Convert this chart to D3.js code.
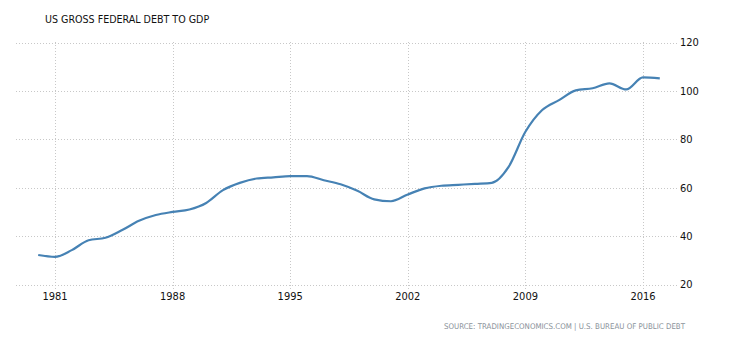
<!DOCTYPE html>
<html><head><meta charset="utf-8">
<script src="https://cdn.jsdelivr.net/npm/d3@7"></script>
<style>body{margin:0;background:#fff}svg{display:block}</style>
</head><body>
<script>
const years = [1980,1981,1982,1983,1984,1985,1986,1987,1988,1989,1990,1991,1992,1993,1994,1995,1996,1997,1998,1999,2000,2001,2002,2003,2004,2005,2006,2007,2008,2009,2010,2011,2012,2013,2014,2015,2016,2017];
const debt = [32.2,31.4,34.2,38.3,39.3,42.5,46.3,48.7,50.0,51.0,53.7,59.0,62.0,63.8,64.3,64.8,64.8,63.1,61.4,58.7,55.2,54.4,57.2,59.7,60.8,61.2,61.6,62.0,68.6,83.1,92.1,96.2,100.2,101.1,103.1,100.6,105.6,105.2];
const xTicks = [1981,1988,1995,2002,2009,2016];
const yTicks = [20,40,60,80,100,120];
const title = "US GROSS FEDERAL DEBT TO GDP";
const source = "SOURCE: TRADINGECONOMICS.COM | U.S. BUREAU OF PUBLIC DEBT";

const W = 730, H = 340;
const svg = d3.select("body").append("svg").attr("width", W).attr("height", H);
const font = "'DejaVu Sans Condensed', 'DejaVu Sans', sans-serif";

const x = d3.scaleLinear().domain([1981, 2016]).range([55, 643]);
const y = d3.scaleLinear().domain([20, 120]).range([284.5, 42.5]);

// horizontal grid
svg.append("g").selectAll("line").data(yTicks).join("line")
  .attr("x1", 16).attr("x2", 677)
  .attr("y1", d => Math.round(y(d)) + 0.5).attr("y2", d => Math.round(y(d)) + 0.5)
  .attr("stroke", "#c8c8c8").attr("stroke-dasharray", "1,2");
// vertical grid
svg.append("g").selectAll("line").data(xTicks).join("line")
  .attr("x1", d => Math.round(x(d)) + 0.5).attr("x2", d => Math.round(x(d)) + 0.5)
  .attr("y1", 42).attr("y2", 290)
  .attr("stroke", "#c8c8c8").attr("stroke-dasharray", "1,2");

// y labels
svg.append("g").selectAll("text").data(yTicks).join("text")
  .attr("x", 680).attr("y", d => y(d)).attr("dy", "0.35em")
  .attr("font-family", font).attr("font-size", 11).attr("fill", "#111")
  .text(d => d);
// x labels
svg.append("g").selectAll("text").data(xTicks).join("text")
  .attr("x", d => x(d)).attr("y", 300).attr("text-anchor", "middle")
  .attr("font-family", font).attr("font-size", 11).attr("fill", "#111")
  .text(d => d);

// line
const line = d3.line().x((d, i) => x(years[i])).y(d => y(d)).curve(d3.curveMonotoneX);
svg.append("path").datum(debt).attr("d", line)
  .attr("fill", "none").attr("stroke", "#4682b4").attr("stroke-width", 2.2)
  .attr("stroke-linejoin", "round");

// title
svg.append("text").attr("x", 45).attr("y", 23)
  .attr("font-family", font).attr("font-size", 10.6).attr("fill", "#111")
  .text(title);
// source
svg.append("text").attr("x", 685).attr("y", 329).attr("text-anchor", "end")
  .attr("font-family", font).attr("font-size", 7.85).attr("fill", "#8a929a")
  .text(source);
</script>
</body></html>
